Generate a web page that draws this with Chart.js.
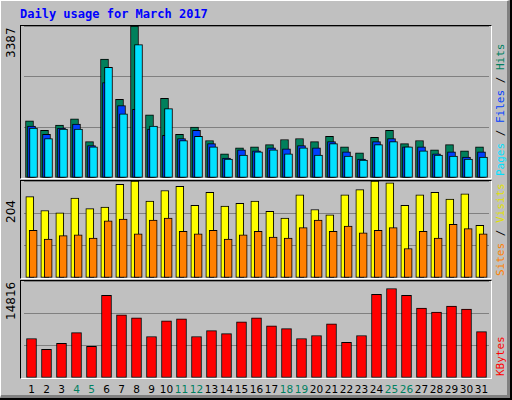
<!DOCTYPE html>
<html><head><meta charset="utf-8">
<script src="https://cdn.jsdelivr.net/npm/chart.js"></script>
<style>
html,body{margin:0;padding:0;background:#fff;}
#root{position:relative;width:510px;height:398px;background:#c0c0c0;border-right:2px solid #000;border-bottom:2px solid #000;box-sizing:content-box;overflow:hidden;}
#root:before{content:"";position:absolute;left:0;top:0;right:0;bottom:0;border-left:1px solid #fff;border-top:1px solid #fff;border-right:3px solid #808080;border-bottom:3px solid #808080;pointer-events:none;}
.title{position:absolute;left:20px;top:7px;font:bold 12px "DejaVu Sans Mono",monospace;color:#0000ff;}
.panel{position:absolute;left:20px;width:470px;border-top:1px solid #000;border-left:1px solid #000;border-right:1px solid #fff;border-bottom:1px solid #fff;}
.panel canvas{display:block;}
.ylab{position:absolute;font:12px "DejaVu Sans",sans-serif;color:#000;transform:rotate(-90deg);transform-origin:left top;white-space:nowrap;}
.rlab{position:absolute;font:11px "DejaVu Sans Mono",monospace;transform:rotate(-90deg);transform-origin:left top;white-space:nowrap;}
.dl{position:absolute;top:383px;font:10.5px "DejaVu Sans",sans-serif;transform:translateX(-50%);}
</style></head><body>
<div id="root">
<div class="title">Daily usage for March 2017</div>
<div class="panel" style="top:25px;height:152px"><canvas id="c1"></canvas></div>
<div class="panel" style="top:180px;height:97px"><canvas id="c2"></canvas></div>
<div class="panel" style="top:280px;height:97px"><canvas id="c3"></canvas></div>
<div class="ylab" style="left:4px;top:58px">3387</div>
<div class="ylab" style="left:4px;top:223px">204</div>
<div class="ylab" style="left:4px;top:320px">14816</div>
<div class="rlab" style="left:494px;top:176px"><span style="color:#00e0ff">Pages</span><span style="color:#000"> / </span><span style="color:#0040ff">Files</span><span style="color:#000"> / </span><span style="color:#008060">Hits</span></div>
<div class="rlab" style="left:494px;top:276px"><span style="color:#ff8000">Sites</span><span style="color:#000"> / </span><span style="color:#e0e000">Visits</span></div>
<div class="rlab" style="left:494px;top:376px"><span style="color:#ff0000">KBytes</span></div>
</div>
<script>
const days=['1','2','3','4','5','6','7','8','9','10','11','12','13','14','15','16','17','18','19','20','21','22','23','24','25','26','27','28','29','30','31'];
const weekend=['4','5','11','12','18','19','25','26'];
const hits=[1272,1065,1180,1318,812,2651,1754,3387,1410,1777,973,1134,835,536,674,697,743,858,881,812,927,697,559,904,1065,766,835,628,743,605,697];
const files=[1157,973,1111,1203,720,2129,1616,1532,1088,950,881,1065,766,444,628,605,674,651,720,674,812,582,421,812,881,697,697,536,582,467,582];
const pages=[1111,881,1088,1088,697,2466,1432,2972,1157,1547,835,927,697,421,513,582,628,536,674,513,766,490,398,743,812,697,605,513,490,421,467];
const visits=[171,142,137,168,146,149,197,204,162,184,193,153,180,151,157,162,140,126,175,144,133,175,186,204,200,153,175,180,166,177,111];
const sites=[100,82,89,91,84,120,124,93,122,126,98,93,100,82,91,98,86,84,106,122,98,109,95,100,106,62,98,84,113,104,93];
const kbytes=[6038,4391,5289,6936,4840,12625,9631,9182,6337,8733,9032,6337,7236,6786,8583,9182,7984,7535,6038,6487,8283,5439,6487,12774,13673,12625,10679,10080,10978,10529,7086];
const maxTop=3387,maxMid=204,maxBot=14816;
Chart.defaults.animation=false;Chart.defaults.responsive=false;
const shiftPlugin={id:'shift',afterDatasetsUpdate(chart){chart.data.datasets.forEach((d,i)=>{const s=d.shift||0;chart.getDatasetMeta(i).data.forEach(el=>{el.x+=s;});});}};
function mk(id,w,h,ds,max){
  const c=document.getElementById(id);c.width=w;c.height=h;c.style.width=w+'px';c.style.height=h+'px';
  return new Chart(c,{type:'bar',plugins:[shiftPlugin],data:{labels:days,datasets:ds.map((d,k)=>({data:d[0],backgroundColor:d[1],borderColor:'#000',borderWidth:1,borderSkipped:false,grouped:false,barThickness:d[2],shift:d[3],order:ds.length-k}))},
  options:{devicePixelRatio:1,layout:{padding:{left:3,right:2,top:0,bottom:0}},plugins:{legend:{display:false},tooltip:{enabled:false}},
  scales:{x:{display:false,offset:true},y:{min:0,max:max,display:true,ticks:{display:false,stepSize:max/3},border:{display:false},grid:{color:'#808080',drawTicks:false,tickLength:0}}}}});
}
mk('c1',470,152,[[hits,'#00805c',8,-2],[files,'#0040ff',8,0],[pages,'#00e0ff',8,2]],maxTop);
mk('c2',470,97,[[visits,'#ffff00',8,-1.7],[sites,'#ff8000',8,1.7]],maxMid);
const ch=mk('c3',470,97,[[kbytes,'#ff0000',10,0]],maxBot);
const root=document.getElementById('root');
days.forEach((d,i)=>{const s=document.createElement('div');s.className='dl';s.textContent=d;s.style.left=(21+ch.scales.x.getPixelForValue(i))+'px';s.style.color=weekend.includes(d)?'#008060':'#000';root.appendChild(s);});
</script>
</body></html>
